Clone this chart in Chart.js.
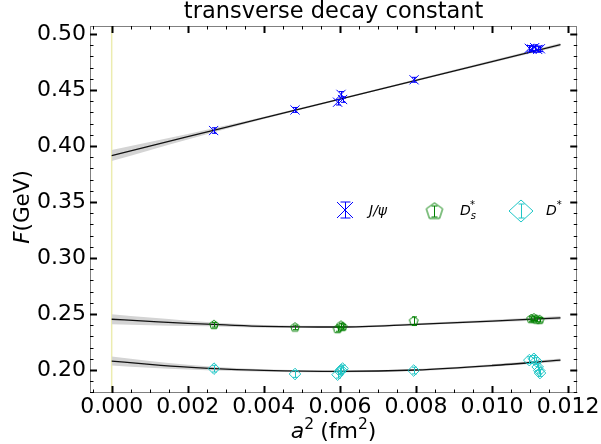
<!DOCTYPE html>
<html>
<head>
<meta charset="utf-8">
<script src="https://cdn.jsdelivr.net/npm/chart.js@4.4.1/dist/chart.umd.min.js"></script>
<style>
  body { margin: 0; background: #fff; }
</style>
</head>
<body>
<canvas id="chart" width="601" height="444"></canvas>
<script>
// tick labels
const xTicks = [0, 0.002, 0.004, 0.006, 0.008, 0.010, 0.012];
const yTicks = [0.20, 0.25, 0.30, 0.35, 0.40, 0.45, 0.50];

// J/psi points
const jpsiX = [0.00268, 0.00482, 0.00594, 0.00603, 0.00607, 0.00795, 0.01098, 0.01105, 0.01112, 0.01120, 0.01127];
const jpsiY = [0.4138, 0.4322, 0.4391, 0.4461, 0.4415, 0.4591, 0.4872, 0.4865, 0.4878, 0.4862, 0.4868];
const jpsiErr = [0.0025, 0.0022, 0.0025, 0.0025, 0.0025, 0.0022, 0.0025, 0.0025, 0.0025, 0.0025, 0.0025];

// D_s* points
const dsX = [0.00269, 0.00482, 0.00594, 0.00603, 0.00607, 0.00794, 0.01103, 0.01110, 0.01117, 0.01125];
const dsY = [0.2403, 0.2380, 0.2366, 0.2397, 0.2384, 0.2436, 0.2455, 0.2462, 0.2450, 0.2448];
const dsErr = [0.002, 0.002, 0.002, 0.002, 0.002, 0.0038, 0.002, 0.002, 0.002, 0.002];

// D* points
const dX = [0.00269, 0.00482, 0.00594, 0.00601, 0.00603, 0.00607, 0.00794, 0.01098, 0.01110, 0.01116, 0.01120, 0.01124, 0.01126];
const dY = [0.2012, 0.1964, 0.1958, 0.1988, 0.2000, 0.2013, 0.1995, 0.2088, 0.2100, 0.2080, 0.2027, 0.1995, 0.1973];
const dErr = [0.003, 0.003, 0.003, 0.003, 0.003, 0.003, 0.003, 0.003, 0.003, 0.003, 0.003, 0.003, 0.003];

// fit curves and their error band half widths
const fitX = [0, 0.001, 0.002, 0.003, 0.004, 0.006, 0.008, 0.010, 0.0118];
const jpsiFit = [0.3915, 0.3999, 0.4083, 0.4167, 0.4251, 0.4418, 0.4586, 0.4754, 0.4905];
const jpsiBand = [0.0050, 0.0037, 0.0025, 0.0016, 0.0011, 0.0008, 0.0009, 0.0011, 0.0015];
const dsFit = [0.2453, 0.2434, 0.2416, 0.2402, 0.2390, 0.2384, 0.2408, 0.2437, 0.2466];
const dsBand = [0.0045, 0.0034, 0.0024, 0.0016, 0.0012, 0.0009, 0.0009, 0.0011, 0.0015];
const dFit = [0.2080, 0.2050, 0.2025, 0.2008, 0.1996, 0.1987, 0.2000, 0.2040, 0.2088];
const dBand = [0.0040, 0.0030, 0.0021, 0.0015, 0.0011, 0.0009, 0.0009, 0.0011, 0.0015];

const BLUE = "#0000ff";
const GREEN = "#008000";
const CYAN = "#1fc6c6";
const FONT = "'DejaVu Sans', sans-serif";

const pts = (xs, ys) => xs.map((x, i) => ({ x, y: ys[i] }));
const shifted = (xs, ys, hw, s) => xs.map((x, i) => ({ x, y: ys[i] + s * hw[i] }));

// pentagon marker as image point style
function pentagon(r, color) {
  const c = document.createElement("canvas");
  const s = Math.ceil(2 * r + 4);
  c.width = c.height = s;
  const g = c.getContext("2d");
  g.strokeStyle = color;
  g.lineWidth = 1;
  g.beginPath();
  for (let k = 0; k < 5; k++) {
    const ang = -Math.PI / 2 + k * 2 * Math.PI / 5;
    const px = s / 2 + r * Math.cos(ang), py = s / 2 + r * Math.sin(ang);
    k ? g.lineTo(px, py) : g.moveTo(px, py);
  }
  g.closePath();
  g.stroke();
  return c;
}

function fitLine(ys, mono) {
  return {
    data: pts(fitX, ys), showLine: true, borderColor: "#111", borderWidth: 1.3,
    pointRadius: 0, fill: false, cubicInterpolationMode: mono ? "monotone" : "default", tension: 0,
  };
}
function bandPair(ys, hw) {
  return [
    { data: shifted(fitX, ys, hw, -1), showLine: true, borderWidth: 0, pointRadius: 0, fill: false, cubicInterpolationMode: "monotone" },
    { data: shifted(fitX, ys, hw, 1), showLine: true, borderWidth: 0, pointRadius: 0, fill: "-1", backgroundColor: "#d4d4d4", cubicInterpolationMode: "monotone" },
  ];
}

const datasets = [
  { label: "J/psi", data: pts(jpsiX, jpsiY), errors: jpsiErr, pointStyle: "crossRot", pointRadius: 6.5, borderColor: BLUE, pointBorderWidth: 1, showLine: false },
  { label: "Ds*", data: pts(dsX, dsY), errors: dsErr, pointStyle: pentagon(4.6, GREEN), borderColor: GREEN, showLine: false },
  { label: "D*", data: pts(dX, dY), errors: dErr, pointStyle: "rectRot", pointRadius: 5.8, borderColor: CYAN, backgroundColor: "rgba(0,0,0,0)", pointBorderWidth: 1, showLine: false },
  fitLine(jpsiFit, false),
  fitLine(dsFit, true),
  fitLine(dFit, true),
  ...bandPair(jpsiFit, jpsiBand),
  ...bandPair(dsFit, dsBand),
  ...bandPair(dFit, dBand),
  // pale vertical line at a^2 = 0
  { data: [{ x: 0, y: 0.17 }, { x: 0, y: 0.52 }], showLine: true, borderColor: "#ececb0", borderWidth: 1.5, pointRadius: 0, fill: false },
];

// mixed font text (italics, sub/superscripts)
function rich(ctx, parts, x, y, align) {
  let w = 0;
  parts.forEach(p => {
    ctx.font = `${p.it ? "italic " : ""}${p.size}px ${FONT}`;
    p.w = ctx.measureText(p.t).width;
    w += p.w + (p.gap || 0);
  });
  let cx = align === "center" ? x - w / 2 : x;
  parts.forEach(p => {
    ctx.font = `${p.it ? "italic " : ""}${p.size}px ${FONT}`;
    ctx.fillText(p.t, cx, y + (p.dy || 0));
    cx += p.w + (p.gap || 0);
  });
}

function errBar(ctx, x, y0, y1, cap, color) {
  ctx.strokeStyle = color;
  ctx.lineWidth = 1;
  ctx.beginPath();
  ctx.moveTo(x, y0); ctx.lineTo(x, y1);
  ctx.moveTo(x - cap, y0); ctx.lineTo(x + cap, y0);
  ctx.moveTo(x - cap, y1); ctx.lineTo(x + cap, y1);
  ctx.stroke();
}

const decor = {
  id: "decor",
  afterDatasetsDraw(chart) {
    const { ctx, scales: { y } } = chart;
    ctx.save();
    [0, 1, 2].forEach(i => {
      const ds = chart.data.datasets[i];
      chart.getDatasetMeta(i).data.forEach((el, j) => {
        const v = ds.data[j].y, e = ds.errors[j];
        errBar(ctx, Math.round(el.x) + 0.5, y.getPixelForValue(v + e), y.getPixelForValue(v - e), 2.5, ds.borderColor);
      });
    });
    ctx.restore();
  },
  afterDraw(chart) {
    const { ctx, chartArea: a, scales: { x, y } } = chart;
    ctx.save();

    // frame
    ctx.strokeStyle = "#808080";
    ctx.lineWidth = 1;
    ctx.strokeRect(Math.round(a.left) + 0.5, Math.round(a.top) + 0.5, Math.round(a.right - a.left) - 1, Math.round(a.bottom - a.top) - 1);

    // ticks pointing inwards, on all four sides
    ctx.strokeStyle = "#000";
    const tick = (isX, v, len, lw) => {
      ctx.lineWidth = lw;
      ctx.beginPath();
      if (isX) {
        const p = Math.round(x.getPixelForValue(v)) + 0.5;
        if (p < a.left || p > a.right) return;
        ctx.moveTo(p, a.bottom); ctx.lineTo(p, a.bottom - len);
        ctx.moveTo(p, a.top); ctx.lineTo(p, a.top + len);
      } else {
        const p = Math.round(y.getPixelForValue(v)) + 0.5;
        if (p < a.top || p > a.bottom) return;
        ctx.moveTo(a.left, p); ctx.lineTo(a.left + len, p);
        ctx.moveTo(a.right, p); ctx.lineTo(a.right - len, p);
      }
      ctx.stroke();
    };
    for (let k = -2; k <= 25; k++) tick(true, k * 0.0005, k % 4 === 0 ? 7 : 3.5, k % 4 === 0 ? 2 : 1);
    for (let k = 17; k <= 51; k++) tick(false, k * 0.01, k % 5 === 0 ? 7 : 3.5, k % 5 === 0 ? 2 : 1);

    ctx.fillStyle = "#000";
    ctx.textBaseline = "alphabetic";
    ctx.textAlign = "left";

    // title
    const cx = (a.left + a.right) / 2;
    rich(ctx, [{ t: "transverse decay constant", size: 22.5 }], cx, 18, "center");

    // x axis title
    rich(ctx, [
      { t: "a", it: true, size: 22 },
      { t: "2", size: 15.5, dy: -9, gap: 6 },
      { t: "(fm", size: 22 },
      { t: "2", size: 15.5, dy: -9 },
      { t: ")", size: 22 },
    ], cx, 438, "center");

    // y axis title
    ctx.save();
    ctx.translate(29, 207);
    ctx.rotate(-Math.PI / 2);
    rich(ctx, [{ t: "F", it: true, size: 21.5 }, { t: "(GeV)", size: 21.5 }], 0, 0, "center");
    ctx.restore();

    // legend
    const ly = 210;
    // J/psi
    ctx.strokeStyle = BLUE; ctx.lineWidth = 1;
    ctx.beginPath();
    ctx.moveTo(337, ly - 8); ctx.lineTo(353, ly + 8);
    ctx.moveTo(337, ly + 8); ctx.lineTo(353, ly - 8);
    ctx.stroke();
    errBar(ctx, 345.5, ly - 8, ly + 8, 5, BLUE);
    rich(ctx, [{ t: "J/ψ", it: true, size: 14 }], 369, ly + 5);
    // D_s*
    ctx.drawImage(pentagon(8.6, GREEN), 434 - 10.5, ly + 1 - 10.5);
    errBar(ctx, 434.5, ly - 4, ly + 7, 3, GREEN);
    rich(ctx, [
      { t: "D", it: true, size: 14 },
      { t: "s", it: true, size: 10, dy: 4, gap: -6 },
      { t: "*", size: 10, dy: -7 },
    ], 460, ly + 5);
    // D*
    ctx.strokeStyle = CYAN;
    ctx.beginPath();
    ctx.moveTo(521, ly - 10); ctx.lineTo(533, ly + 1); ctx.lineTo(521, ly + 12); ctx.lineTo(509, ly + 1); ctx.closePath();
    ctx.stroke();
    errBar(ctx, 521.5, ly - 6, ly + 8, 3, CYAN);
    rich(ctx, [{ t: "D", it: true, size: 14 }, { t: "*", size: 10, dy: -7 }], 546, ly + 5);

    ctx.restore();
  },
};

new Chart(document.getElementById("chart"), {
  type: "scatter",
  data: { datasets },
  options: {
    responsive: false,
    animation: false,
    events: [],
    layout: { padding: { top: 26, right: 21, left: 0, bottom: 0 } },
    plugins: { legend: { display: false }, tooltip: { enabled: false }, title: { display: false } },
    scales: {
      x: {
        type: "linear", min: -0.00057, max: 0.01224,
        afterBuildTicks: s => { s.ticks = xTicks.map(v => ({ value: v })); },
        afterFit: s => { s.height = 51; },
        ticks: { callback: v => v.toFixed(3), font: { family: FONT, size: 22 }, color: "#000", padding: 1, maxRotation: 0, autoSkip: false },
        grid: { display: false, drawTicks: false },
        border: { display: false },
      },
      y: {
        type: "linear", min: 0.17946, max: 0.50714,
        afterBuildTicks: s => { s.ticks = yTicks.map(v => ({ value: v })); },
        afterFit: s => { s.width = 90; },
        ticks: { callback: v => v.toFixed(2), font: { family: FONT, size: 22 }, color: "#000", padding: 4, autoSkip: false },
        grid: { display: false, drawTicks: false },
        border: { display: false },
      },
    },
  },
  plugins: [decor],
});
</script>
</body>
</html>
